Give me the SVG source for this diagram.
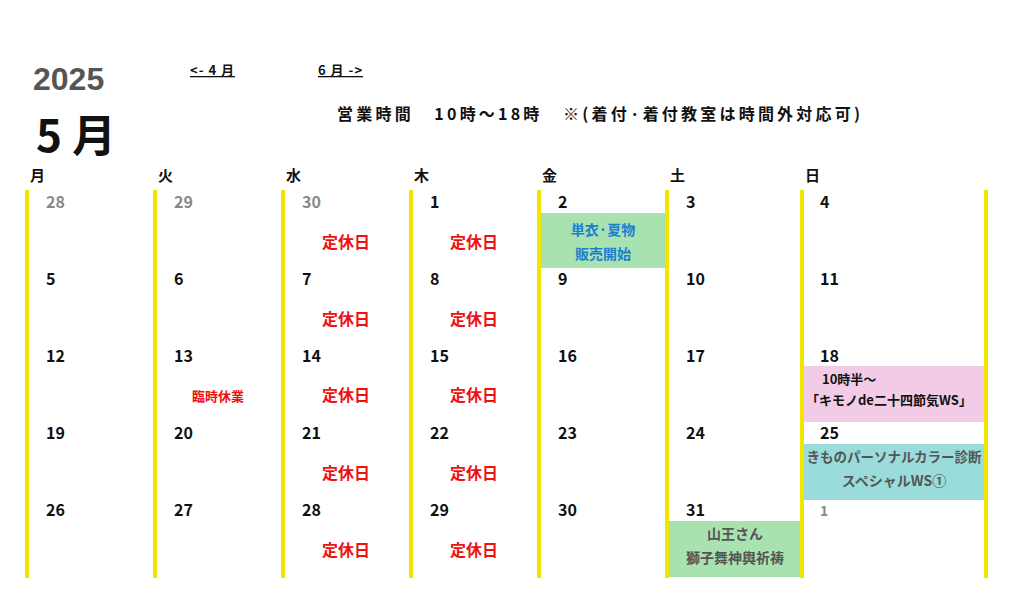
<svg xmlns="http://www.w3.org/2000/svg" width="1020" height="612" viewBox="0 0 1020 612">
<style>
text{font-family:"Noto Sans CJK JP","Liberation Sans",sans-serif;font-weight:bold}
.d{font-size:16px;fill:#111}
.g{font-size:16px;fill:#888}
.w{font-size:15px;fill:#111}
.r{font-size:16px;fill:#f01010;text-anchor:middle}
.ln{stroke:#f2e600;stroke-width:4}
.e{font-size:14px;text-anchor:middle}
.u{font-size:13px;fill:#111;text-decoration:underline;letter-spacing:1px}
</style>
<rect width="1020" height="612" fill="#fff"/>
<g id="header">
<text x="33" y="90" style="font-size:32px;fill:#555;font-family:'Liberation Sans',sans-serif">2025</text>
<text x="36" y="152" style="font-size:44px;fill:#111">5 月</text>
<text x="190" y="75" class="u" xml:space="preserve">&lt;- 4 月</text>
<text x="318" y="75" class="u" xml:space="preserve">6 月 -&gt;</text>
<text x="337" y="120" style="font-size:16px;fill:#111" xml:space="preserve" textLength="523" lengthAdjust="spacing">営業時間   10時～18時   ※(着付·着付教室は時間外対応可)</text>
</g>
<g id="weekdays" class="w">
<text x="30" y="181" class="w">月</text><text x="158" y="181" class="w">火</text><text x="286" y="181" class="w">水</text><text x="414" y="181" class="w">木</text><text x="542" y="181" class="w">金</text><text x="670" y="181" class="w">土</text><text x="805" y="181" class="w">日</text>
</g>
<g id="events">
<rect x="541" y="213" width="124" height="55" fill="#a8e2b0"/>
<text x="603" y="235" class="e" fill="#1a7fd0">単衣·夏物</text>
<text x="603" y="259" class="e" fill="#1a7fd0">販売開始</text>
<rect x="804" y="366" width="181" height="56" fill="#f2cce6"/>
<text x="822" y="384" style="font-size:13px;fill:#111">10時半～</text>
<text x="806" y="405" style="font-size:13px;fill:#111">「キモノde二十四節気WS」</text>
<rect x="804" y="444" width="181" height="56" fill="#9adcdc"/>
<text x="894" y="462" class="e" fill="#555" style="font-size:13.5px">きものパーソナルカラー診断</text>
<text x="894" y="486" class="e" fill="#555">スペシャルWS①</text>
<rect x="669" y="521" width="132" height="56" fill="#a8e2b0"/>
<text x="735" y="539" class="e" fill="#555">山王さん</text>
<text x="735" y="563" class="e" fill="#555">獅子舞神輿祈祷</text>
</g>
<g id="grid">
<line class="ln" x1="27" y1="190" x2="27" y2="578"/>
<line class="ln" x1="155" y1="190" x2="155" y2="578"/>
<line class="ln" x1="283" y1="190" x2="283" y2="578"/>
<line class="ln" x1="411" y1="190" x2="411" y2="578"/>
<line class="ln" x1="539" y1="190" x2="539" y2="578"/>
<line class="ln" x1="667" y1="190" x2="667" y2="578"/>
<line class="ln" x1="802" y1="190" x2="802" y2="578"/>
<line class="ln" x1="986" y1="190" x2="986" y2="578"/>
</g>
<g id="dates">
<text x="46" y="208" class="g">28</text><text x="174" y="208" class="g">29</text><text x="302" y="208" class="g">30</text><text x="430" y="208" class="d">1</text><text x="558" y="208" class="d">2</text><text x="686" y="208" class="d">3</text><text x="820" y="208" class="d">4</text>
<text x="46" y="285" class="d">5</text><text x="174" y="285" class="d">6</text><text x="302" y="285" class="d">7</text><text x="430" y="285" class="d">8</text><text x="558" y="285" class="d">9</text><text x="686" y="285" class="d">10</text><text x="820" y="285" class="d">11</text>
<text x="46" y="362" class="d">12</text><text x="174" y="362" class="d">13</text><text x="302" y="362" class="d">14</text><text x="430" y="362" class="d">15</text><text x="558" y="362" class="d">16</text><text x="686" y="362" class="d">17</text><text x="820" y="362" class="d">18</text>
<text x="46" y="439" class="d">19</text><text x="174" y="439" class="d">20</text><text x="302" y="439" class="d">21</text><text x="430" y="439" class="d">22</text><text x="558" y="439" class="d">23</text><text x="686" y="439" class="d">24</text><text x="820" y="439" class="d">25</text>
<text x="46" y="516" class="d">26</text><text x="174" y="516" class="d">27</text><text x="302" y="516" class="d">28</text><text x="430" y="516" class="d">29</text><text x="558" y="516" class="d">30</text><text x="686" y="516" class="d">31</text><text x="820" y="516" class="g" style="font-size:14px">1</text>
</g>
<g id="closed">
<text x="346" y="248" class="r">定休日</text><text x="474" y="248" class="r">定休日</text>
<text x="346" y="325" class="r">定休日</text><text x="474" y="325" class="r">定休日</text>
<text x="218" y="401" class="r" style="font-size:13px">臨時休業</text>
<text x="346" y="401" class="r">定休日</text><text x="474" y="401" class="r">定休日</text>
<text x="346" y="479" class="r">定休日</text><text x="474" y="479" class="r">定休日</text>
<text x="346" y="556" class="r">定休日</text><text x="474" y="556" class="r">定休日</text>
</g>
</svg>
